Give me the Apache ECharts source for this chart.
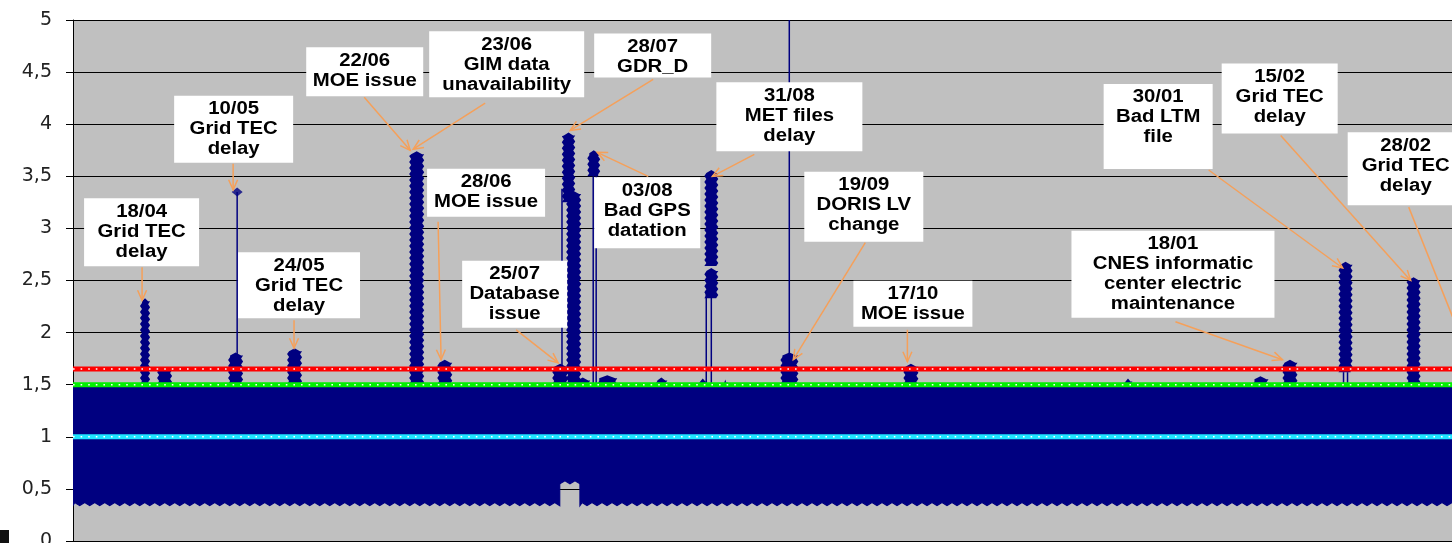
<!DOCTYPE html>
<html>
<head>
<meta charset="utf-8">
<script src="https://cdn.jsdelivr.net/npm/echarts@6/dist/echarts.min.js"></script>
<style>
  html, body { margin: 0; padding: 0; background: #fff; }
  #chart { width: 1452px; height: 543px; }
</style>
</head>
<body>
<div id="chart"></div>
<script>
// ---- data -----------------------------------------------------------------
const X_MIN = '2012-04-01';
const X_MAX = '2013-03-31';
const yTickLabels = ['0', '0,5', '1', '1,5', '2', '2,5', '3', '3,5', '4', '4,5', '5'];

// reference thresholds
const thresholdValues = [1.65, 1.5, 1.0];

// nominal daily envelope (min / max of the dense series)
const bandStart = ['2012-04-01', '2012-07-26 06:00', '2012-07-31 02:00'];
const bandEnd   = ['2012-07-26 06:00', '2012-07-31 02:00', '2013-03-31'];
const bandLow   = [0.34, 0.55, 0.34];
const bandHigh  = [1.49, 1.49, 1.49];

// excursions above the envelope
const spikeStart = [
  '2012-04-17 00:00', '2012-04-21 02:00', '2012-05-08 01:00', '2012-05-22 03:00',
  '2012-06-20 07:00', '2012-06-27 00:00', '2012-07-24 11:00', '2012-07-26 18:00',
  '2012-07-27 19:00', '2012-07-29 23:00', '2012-08-01 20:00', '2012-08-04 05:00',
  '2012-08-18 02:00', '2012-08-28 08:00', '2012-08-29 19:00', '2012-08-29 19:00',
  '2012-09-03 02:00', '2012-09-16 23:00', '2012-10-16 08:00', '2012-12-07 22:00',
  '2013-01-07 17:00', '2013-01-14 21:00', '2013-01-28 06:00', '2013-02-13 12:00',
  '2013-02-27 00:00'
];
const spikeEnd = [
  '2012-04-19 10:00', '2012-04-24 16:00', '2012-05-11 15:00', '2012-05-25 17:00',
  '2012-06-23 21:00', '2012-06-30 14:00', '2012-07-28 07:00', '2012-07-29 23:00',
  '2012-07-31 09:00', '2012-08-02 13:00', '2012-08-04 22:00', '2012-08-09 00:00',
  '2012-08-20 23:00', '2012-08-30 12:00', '2012-09-02 03:00', '2012-09-02 03:00',
  '2012-09-04 12:00', '2012-09-21 06:00', '2012-10-19 22:00', '2012-12-10 01:00',
  '2013-01-11 13:00', '2013-01-18 11:00', '2013-01-31 15:00', '2013-02-16 21:00',
  '2013-03-02 00:00'
];
const spikeLow  = [1.45, 1.45, 1.45, 1.45, 1.45, 1.45, 1.45, 3.25, 1.45, 1.45, 3.50, 1.45,
                   1.45, 1.45, 2.64, 2.33, 1.45, 1.45, 1.45, 1.45, 1.50, 1.45, 1.62, 1.45, 1.45];
const spikeHigh = [2.33, 1.67, 1.81, 1.85, 3.74, 1.74, 1.70, 3.92, 3.36, 1.57, 3.75, 1.59,
                   1.57, 1.56, 3.56, 2.62, 1.55, 1.81, 1.70, 1.56, 1.58, 1.74, 2.68, 2.53, 1.78];

// isolated single-point excursions (drawn as thin vertical lines)
const lineDate = ['2012-05-10 05:00', '2012-07-26 19:00', '2012-08-03 06:00', '2012-08-03 23:00',
                  '2012-08-30 06:00', '2012-08-31 11:00', '2012-09-19 02:00', '2013-01-29 11:00',
                  '2013-01-30 10:00'];
const lineLow  = [1.45, 1.45, 1.45, 1.45, 1.45, 1.45, 1.45, 1.45, 1.45];
const lineHigh = [3.35, 3.38, 3.50, 3.50, 2.40, 2.40, 5.00, 1.62, 1.62];

const peakDate  = ['2012-05-10 05:00'];
const peakValue = [3.35];

// event annotations: arrow tip (date, value) and text
const noteDate = [
  '2012-04-17 12:00', '2012-05-09 06:00', '2012-05-23 19:00', '2012-06-20 13:00',
  '2012-06-21 06:00', '2012-07-28 18:00', '2012-06-27 22:00', '2012-07-25 21:00',
  '2012-08-04 05:00', '2012-08-31 17:00', '2012-09-20 01:00', '2012-10-17 07:00',
  '2013-01-14 21:00', '2013-01-29 06:00', '2013-02-14 12:00', '2013-02-28 12:00'
];
const noteValue = [2.31, 3.37, 1.85, 3.75, 3.76, 3.94, 1.74, 1.71, 3.73, 3.50, 1.74, 1.72,
                   1.74, 2.62, 2.50, 1.75];
const noteText = [
  '18/04\nGrid TEC\ndelay',
  '10/05\nGrid TEC\ndelay',
  '24/05\nGrid TEC\ndelay',
  '22/06\nMOE issue',
  '23/06\nGIM data\nunavailability',
  '28/07\nGDR_D',
  '28/06\nMOE issue',
  '25/07\nDatabase\nissue',
  '03/08\nBad GPS\ndatation',
  '31/08\nMET files\ndelay',
  '19/09\nDORIS LV\nchange',
  '17/10\nMOE issue',
  '18/01\nCNES informatic\ncenter electric\nmaintenance',
  '30/01\nBad LTM\nfile',
  '15/02\nGrid TEC\ndelay',
  '28/02\nGrid TEC\ndelay'
];

// ---- annotation layout (pixel offsets from the arrow tip) --------------------
// [boxDx, boxDy, boxW, boxH, tailDx, tailDy]
const noteLayout = [
  [-0.5, -68, 115, 68, 0, -33],
  [0.5, -60.5, 119, 67, 0, -26],
  [5, -63, 122, 66, 0, -28],
  [-45.5, -78.5, 117, 49, -46, -53],
  [93.5, -85, 155, 66, 72, -46],
  [82.5, -75, 117, 44, 83, -51],
  [45, -167, 118, 48, -3, -138],
  [-43.5, -68.5, 105, 67, -42, -33],
  [50, 60.5, 106, 71, 51, 24],
  [77, -59.5, 146, 69, 42, -22],
  [70.5, -153, 119, 70, 72, -117],
  [5.5, -58, 119, 46, 0, -32],
  [-109.5, -85.5, 203, 87, -107, -38],
  [-184.5, -141.5, 109, 85, -134, -98],
  [-131, -182, 116, 70, -130, -145],
  [-63.6, -190, 116, 73, -60.6, -151.5]
];

// ---- styles -------------------------------------------------------------------
const NAVY = '#000080';
const ARROW = '#F5A05A';
const thresholdColors = ['#FF0000', '#00F000', '#1EE4FF'];

// ---- helpers ------------------------------------------------------------------
const ts = s => echarts.time.parse(s).getTime();
const blocks = (a, b, c, d) => a.map((v, i) => [ts(v), ts(b[i]), c[i], d[i]]);

// envelope block: flat top, serrated lower edge (marker texture)
function bandShape(x0, x1, yT, yB) {
  const pts = [[x0, yT], [x1, yT]];
  let k = 0;
  for (let x = x1; x > x0; x -= 5, k++) pts.push([x, k % 2 ? yB - 3 : yB]);
  pts.push([x0, yB]);
  return pts;
}

// excursion column: pointed top, serrated sides (marker texture)
function spikeShape(x0, x1, yT, yB) {
  const amp = 2, step = 3;
  const pts = [[x0 + amp, yT + 3], [(x0 + x1) / 2, yT], [x1 - amp, yT + 3]];
  let k = 0;
  for (let y = yT + 3; y < yB; y += step, k++) pts.push([k % 2 ? x1 - amp : x1, y]);
  pts.push([x1 - amp, yB], [x0 + amp, yB]);
  k = 0;
  for (let y = yB; y > yT + 3; y -= step, k++) pts.push([k % 2 ? x0 + amp : x0, y]);
  return pts;
}

function blockRenderer(shapeFn, edge) {
  return function (params, api) {
    const p0 = api.coord([api.value(0), api.value(3)]);
    const p1 = api.coord([api.value(1), api.value(2)]);
    return {
      type: 'polygon',
      shape: { points: shapeFn(p0[0], p1[0], p0[1], p1[1]) },
      style: edge ? { fill: NAVY, stroke: NAVY, lineWidth: edge } : { fill: NAVY }
    };
  };
}

const blockDims = [
  { name: 'start', type: 'time' }, { name: 'end', type: 'time' },
  { name: 'low', type: 'float' }, { name: 'high', type: 'float' }
];

const chart = echarts.init(document.getElementById('chart'), null, { renderer: 'canvas' });

const option = {
  animation: false,
  backgroundColor: '#FFFFFF',
  grid: {
    left: 73, top: 20, bottom: 2, width: 1524,
    outerBoundsMode: 'none', containLabel: false,
    show: true, backgroundColor: '#C0C0C0', borderWidth: 0
  },
  xAxis: {
    type: 'time',
    min: X_MIN, max: X_MAX,
    axisLine: { show: true, onZero: false, lineStyle: { color: '#000', width: 1 } },
    axisTick: { show: false },
    axisLabel: { show: false },
    splitLine: { show: false }
  },
  yAxis: {
    type: 'value',
    min: 0, max: 5, interval: 0.5,
    axisLine: { show: true, lineStyle: { color: '#000', width: 1 } },
    axisTick: { show: true, inside: false, length: 7, lineStyle: { color: '#000' } },
    axisLabel: {
      margin: 21,
      fontFamily: 'DejaVu Sans', fontSize: 19, color: '#222',
      formatter: v => yTickLabels[Math.round(v * 2)]
    },
    splitLine: { show: true, lineStyle: { color: '#000', width: 1 } }
  },
  graphic: [
    { type: 'rect', left: 0, top: 530, shape: { width: 9, height: 13 }, style: { fill: '#111' }, z: 100 }
  ],
  series: [
    {
      name: 'envelope', type: 'custom', clip: true, silent: true,
      dimensions: blockDims, encode: { x: [0, 1], y: [2, 3] },
      data: blocks(bandStart, bandEnd, bandLow, bandHigh),
      renderItem: blockRenderer(bandShape, 1.2)
    },
    {
      name: 'excursions', type: 'custom', clip: true, silent: true,
      dimensions: blockDims, encode: { x: [0, 1], y: [2, 3] },
      data: blocks(spikeStart, spikeEnd, spikeLow, spikeHigh),
      renderItem: blockRenderer(spikeShape, 0)
    },
    {
      name: 'isolated', type: 'custom', clip: true, silent: true,
      data: lineDate.map((d, i) => [ts(d), lineLow[i], lineHigh[i]]),
      renderItem: function (params, api) {
        const a = api.coord([api.value(0), api.value(1)]);
        const b = api.coord([api.value(0), api.value(2)]);
        return {
          type: 'line',
          shape: { x1: a[0], y1: a[1], x2: b[0], y2: b[1] },
          style: { stroke: NAVY, lineWidth: 1.5 }
        };
      }
    },
    {
      name: 'peak', type: 'scatter', silent: true,
      symbol: 'diamond', symbolSize: [11, 9],
      itemStyle: { color: NAVY },
      data: peakDate.map((d, i) => [d, peakValue[i]])
    },
    // threshold lines: solid colour with a white dotted overlay
    ...thresholdValues.flatMap((v, i) => [
      {
        type: 'line', silent: true, symbol: 'none',
        lineStyle: { color: thresholdColors[i], width: 5 },
        data: [[X_MIN, v], [X_MAX, v]], z: 3
      },
      {
        type: 'line', silent: true, symbol: 'none',
        lineStyle: { color: '#FFFFFF', width: 1.6, type: [1.6, 6] },
        data: [[X_MIN, v], [X_MAX, v]], z: 3
      }
    ]),
    {
      name: 'events', type: 'custom', clip: false, silent: true, z: 10,
      data: noteDate.map((d, i) => [ts(d), noteValue[i]]),
      renderItem: function (params, api) {
        const i = params.dataIndex;
        const L = noteLayout[i];
        const tip = api.coord([api.value(0), api.value(1)]);
        const cx = tip[0] + L[0], cy = tip[1] + L[1], w = L[2], h = L[3];
        const sx = tip[0] + L[4], sy = tip[1] + L[5];
        const ang = Math.atan2(tip[1] - sy, tip[0] - sx);
        const hl = 11, ha = 0.42;
        const h1 = [tip[0] - hl * Math.cos(ang - ha), tip[1] - hl * Math.sin(ang - ha)];
        const h2 = [tip[0] - hl * Math.cos(ang + ha), tip[1] - hl * Math.sin(ang + ha)];
        return {
          type: 'group',
          children: [
            { type: 'line', shape: { x1: sx, y1: sy, x2: tip[0], y2: tip[1] },
              style: { stroke: ARROW, lineWidth: 1.5 } },
            { type: 'polyline', shape: { points: [h1, tip, h2] },
              style: { stroke: ARROW, lineWidth: 1.5, fill: null } },
            { type: 'rect', shape: { x: cx - w / 2, y: cy - h / 2, width: w, height: h },
              style: { fill: '#FFFFFF' } },
            { type: 'text', x: cx, y: cy - h / 2 + 3.5, scaleX: 1.13,
              style: {
                text: noteText[i], x: 0, y: 0,
                fontFamily: '"Liberation Sans", Arial, sans-serif',
                fontSize: 18, fontWeight: 'bold', lineHeight: 20,
                fill: '#000', align: 'center', verticalAlign: 'top'
              } }
          ]
        };
      }
    }
  ]
};

chart.setOption(option);
</script>
</body>
</html>
